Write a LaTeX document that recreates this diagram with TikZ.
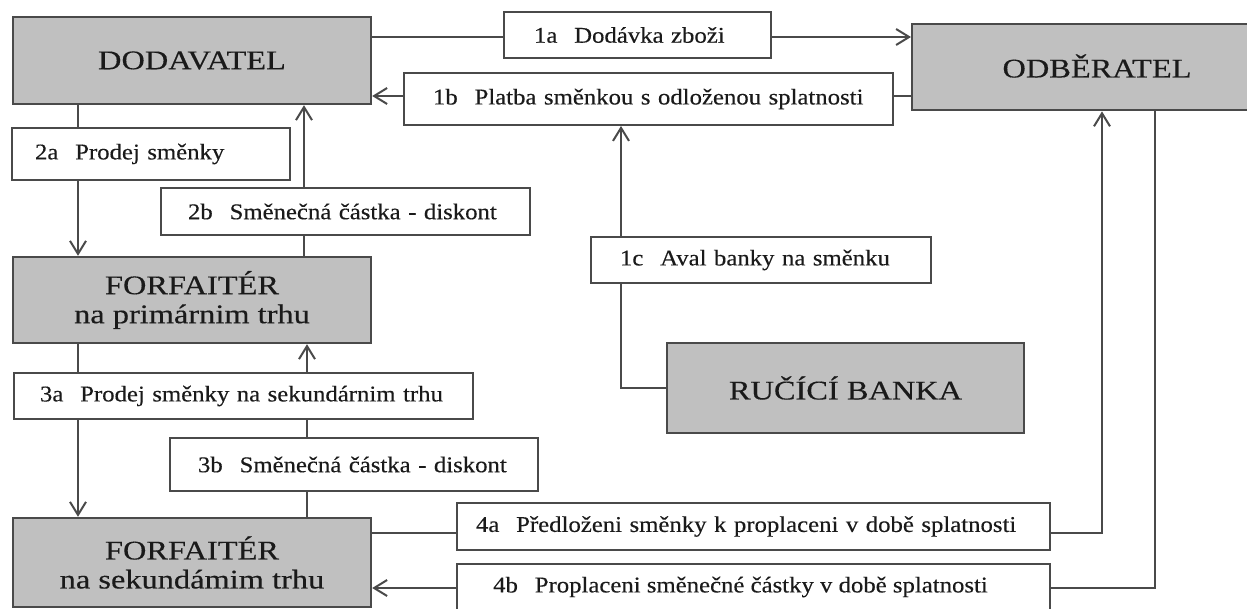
\documentclass[tikz,border=0pt]{standalone}
\usepackage{fontspec}
\setmainfont{Liberation Serif}
\newfontfamily\titlefont[FakeStretch=1.2,FakeBold=0.3]{Liberation Serif}
\newfontfamily\lblfont[FakeStretch=1.1,FakeBold=0.3]{Liberation Serif}
\usetikzlibrary{arrows.meta}
\definecolor{boxfill}{HTML}{C0C0C0}
\definecolor{edge}{HTML}{4A4A4A}
\definecolor{ink}{HTML}{1A1A1A}
\tikzset{
  actor/.style={draw=edge, line width=2.4pt, fill=boxfill, text=ink, align=center,
    font=\titlefont\fontsize{27}{29}\selectfont, inner sep=0pt},
  lbl/.style={draw=edge, line width=2pt, fill=white, text=ink, align=left,
    font=\lblfont\fontsize{22.5}{25}\selectfont, inner ysep=0pt},
  conn/.style={draw=edge, line width=2pt},
  arr/.style={conn, -{Straight Barb[length=13pt,width=16pt,line width=2pt]}},
}
\newcommand{\gp}{\hspace{0.75em}}
\begin{document}
\begin{tikzpicture}[x=1pt,y=-1pt]
\useasboundingbox (0,0) rectangle (1247,608);
% actors
\node[actor, minimum width=358pt, minimum height=87pt] (dod) at (192,60.5) {DODAVATEL};
\node[actor, minimum width=379pt, minimum height=86pt, anchor=north west] (odb) at (911,23) {};
\node[text=ink, font=\titlefont\fontsize{27}{29}\selectfont] (odbt) at (1097,66) {ODBĚRATEL};
\node[actor, minimum width=358pt, minimum height=86pt] (f1) at (192,300) {FORFAITÉR\\na primárnim trhu};
\node[actor, minimum width=358pt, minimum height=89pt] (f2) at (192,562.5) {FORFAITÉR\\na sekundámim trhu};
\node[actor, minimum width=357pt, minimum height=90pt] (bank) at (845.5,388) {RUČÍCÍ BANKA};
% labels
\node[lbl, minimum height=46pt, text width=207pt, inner xsep=30pt] (l1a) at (637.5,35) {1a\gp Dodávka zboži};
\node[lbl, minimum height=52pt, text width=431pt, inner xsep=29pt] (l1b) at (648.5,99) {1b\gp Platba směnkou s odloženou splatnosti};
\node[lbl, minimum height=52pt, text width=232pt, inner xsep=23pt] (l2a) at (151,154) {2a\gp Prodej směnky};
\node[lbl, minimum height=47pt, text width=315pt, inner xsep=27pt] (l2b) at (345.5,211.5) {2b\gp Směnečná částka - diskont};
\node[lbl, minimum height=46pt, text width=282pt, inner xsep=29pt] (l1c) at (761,260) {1c\gp Aval banky na směnku};
\node[lbl, minimum height=46pt, text width=407pt, inner xsep=26pt] (l3a) at (243.5,396) {3a\gp Prodej směnky na sekundárnim trhu};
\node[lbl, minimum height=53pt, text width=312pt, inner xsep=28pt] (l3b) at (354,464.5) {3b\gp Směnečná částka - diskont};
\node[lbl, minimum height=47pt, text width=555pt, inner xsep=19pt] (l4a) at (753.5,526.5) {4a\gp Předloženi směnky k proplaceni v době splatnosti};
\node[lbl, minimum height=49pt, text width=521pt, inner xsep=36pt, anchor=north] (l4b) at (753.5,563) {\rule{0pt}{0pt}};
\node[text=ink, font=\lblfont\fontsize{22.5}{25}\selectfont, anchor=west, inner sep=0pt] (l4bt) at (493,587) {4b\gp Proplaceni směnečné částky v době splatnosti};
% helper coordinates
\coordinate (x2a) at (78,0);
\coordinate (x2b) at (304,0);
\coordinate (x3b) at (307,0);
\coordinate (x1c) at (621,0);
\coordinate (x4a) at (1102,0);
\coordinate (x4b) at (1155,0);
\coordinate (y1a) at (0,37);
\coordinate (y1b) at (0,96);
\coordinate (y4a) at (0,533);
\coordinate (y4b) at (0,588);
% 1a
\draw[conn] (dod.east |- y1a) -- (l1a.west |- y1a);
\draw[arr] (l1a.east |- y1a) -- (odb.west |- y1a);
% 1b
\draw[conn] (odb.west |- y1b) -- (l1b.east |- y1b);
\draw[arr] (l1b.west |- y1b) -- (dod.east |- y1b);
% 1c
\draw[arr] (l1c.north -| x1c) -- (l1b.south -| x1c);
\draw[conn] (l1c.south -| x1c) |- (bank.west);
% 2a
\draw[conn] (dod.south -| x2a) -- (l2a.north -| x2a);
\draw[arr] (l2a.south -| x2a) -- (f1.north -| x2a);
% 2b
\draw[conn] (f1.north -| x2b) -- (l2b.south -| x2b);
\draw[arr] (l2b.north -| x2b) -- (dod.south -| x2b);
% 3a
\draw[conn] (f1.south -| x2a) -- (l3a.north -| x2a);
\draw[arr] (l3a.south -| x2a) -- (f2.north -| x2a);
% 3b
\draw[conn] (f2.north -| x3b) -- (l3b.south -| x3b);
\draw[conn] (l3b.north -| x3b) -- (l3a.south -| x3b);
\draw[arr] (l3a.north -| x3b) -- (f1.south -| x3b);
% 4a
\draw[conn] (f2.east |- y4a) -- (l4a.west |- y4a);
\draw[arr] (l4a.east |- y4a) -| (odb.south -| x4a);
% 4b
\draw[conn] (odb.south -| x4b) |- (l4b.east |- y4b);
\draw[arr] (l4b.west |- y4b) -- (f2.east |- y4b);
\end{tikzpicture}
\end{document}
